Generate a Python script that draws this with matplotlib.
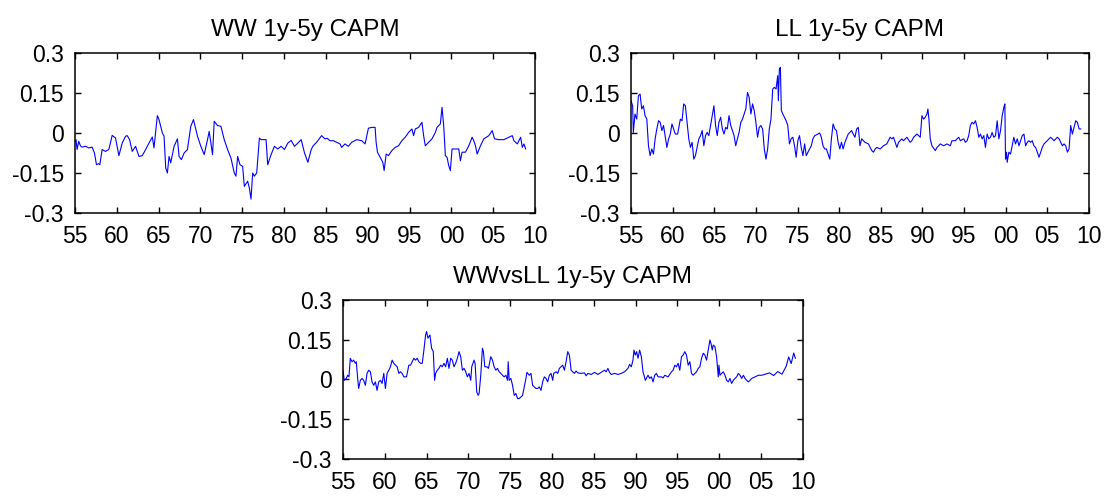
"""Three rolling 1y-5y CAPM alpha series (WW, LL, WW vs LL), MATLAB-style panels."""

import matplotlib
matplotlib.use("Agg")
from matplotlib import pyplot as plt

# WW 1y-5y CAPM  (decimal year, value)
ww_year = [1955.0, 1955.12, 1955.24, 1955.44, 1955.64, 1955.84, 1956.24, 1956.64, 1957.04, 1957.32,
           1957.56, 1957.80, 1957.96, 1958.24, 1958.64, 1959.04, 1959.44, 1959.84, 1960.24, 1960.64,
           1961.04, 1961.24, 1961.52, 1961.84, 1962.24, 1962.64, 1963.04, 1963.44, 1963.84, 1964.24,
           1964.44, 1964.84, 1965.04, 1965.44, 1965.64, 1965.84, 1966.04, 1966.24, 1966.44, 1966.84,
           1967.24, 1967.44, 1967.72, 1968.04, 1968.44, 1968.84, 1969.16, 1969.64, 1970.04, 1970.44,
           1970.84, 1971.04, 1971.44, 1971.64, 1972.04, 1972.44, 1972.84, 1973.24, 1973.64, 1974.04,
           1974.24, 1974.44, 1974.72, 1975.04, 1975.24, 1975.64, 1975.84, 1976.04, 1976.24, 1976.44,
           1976.72, 1977.04, 1977.24, 1977.64, 1977.84, 1978.04, 1978.44, 1978.84, 1979.24, 1979.64,
           1980.04, 1980.44, 1980.84, 1981.24, 1981.64, 1982.04, 1982.44, 1982.84, 1983.24, 1983.48,
           1983.88, 1984.48, 1984.88, 1985.16, 1985.48, 1985.88, 1986.28, 1986.68, 1986.88, 1987.28,
           1987.68, 1988.08, 1988.68, 1989.28, 1989.68, 1990.08, 1990.48, 1990.88, 1991.00, 1991.16,
           1991.48, 1991.80, 1991.96, 1992.20, 1992.48, 1992.88, 1993.28, 1993.68, 1994.08, 1994.48,
           1994.88, 1995.28, 1995.48, 1995.68, 1996.08, 1996.48, 1996.68, 1996.88, 1997.28, 1997.68,
           1998.08, 1998.28, 1998.68, 1998.88, 1999.08, 1999.28, 1999.48, 1999.68, 1999.88, 2000.08,
           2000.48, 2000.88, 2001.08, 2001.28, 2001.68, 2002.08, 2002.48, 2002.68, 2002.88, 2003.08,
           2003.48, 2003.88, 2004.48, 2004.88, 2005.16, 2005.68, 2006.28, 2006.88, 2007.28, 2007.48,
           2007.88, 2008.28, 2008.48, 2008.68, 2008.88]
ww_val = [-0.03, -0.025, -0.062, -0.031, -0.048, -0.053, -0.05, -0.056, -0.053, -0.075,
          -0.119, -0.115, -0.119, -0.062, -0.069, -0.062, -0.009, -0.019, -0.085, -0.038,
          -0.012, -0.01, -0.025, -0.069, -0.05, -0.088, -0.085, -0.062, -0.038, -0.015,
          -0.056, 0.065, 0.05, 0.0, -0.012, -0.131, -0.15, -0.088, -0.112, -0.05,
          -0.022, -0.088, -0.1, -0.075, -0.062, 0.025, 0.05, -0.012, -0.05, -0.081,
          -0.025, 0.006, -0.081, 0.044, 0.028, 0.025, -0.025, -0.062, -0.094, -0.15,
          -0.162, -0.088, -0.119, -0.125, -0.2, -0.181, -0.206, -0.248, -0.15, -0.162,
          -0.15, -0.019, -0.025, -0.025, -0.025, -0.119, -0.081, -0.05, -0.06, -0.05,
          -0.062, -0.038, -0.028, -0.05, -0.038, -0.025, -0.075, -0.11, -0.062, -0.048,
          -0.035, -0.01, -0.022, -0.02, -0.029, -0.029, -0.035, -0.041, -0.054, -0.041,
          -0.05, -0.035, -0.025, -0.029, -0.041, 0.018, 0.021, 0.021, -0.035, -0.072,
          -0.091, -0.11, -0.141, -0.079, -0.085, -0.066, -0.054, -0.048, -0.029, -0.016,
          0.002, 0.015, -0.01, 0.015, 0.021, 0.04, -0.01, -0.048, -0.035, -0.022,
          0.002, 0.021, 0.034, 0.096, 0.028, -0.085, -0.091, -0.122, -0.141, -0.06,
          -0.06, -0.06, -0.104, -0.072, -0.072, -0.048, -0.016, -0.029, -0.048, -0.079,
          -0.048, -0.022, -0.01, 0.009, -0.022, -0.025, -0.025, -0.016, -0.01, -0.029,
          -0.041, -0.016, -0.054, -0.041, -0.06]

# LL 1y-5y CAPM
ll_year = [1955.0, 1955.2, 1955.28, 1955.48, 1955.69, 1955.89, 1956.09, 1956.29, 1956.49, 1956.69,
           1956.9, 1957.1, 1957.3, 1957.5, 1957.7, 1957.9, 1958.1, 1958.31, 1958.51, 1958.71,
           1958.91, 1959.31, 1959.52, 1959.72, 1959.92, 1960.12, 1960.32, 1960.6, 1960.93, 1961.13,
           1961.33, 1961.53, 1961.73, 1961.94, 1962.14, 1962.34, 1962.54, 1962.74, 1962.94, 1963.15,
           1963.35, 1963.55, 1963.75, 1963.95, 1964.15, 1964.35, 1964.56, 1964.76, 1964.96, 1965.16,
           1965.36, 1965.56, 1965.77, 1965.97, 1966.17, 1966.37, 1966.57, 1966.77, 1966.98, 1967.18,
           1967.38, 1967.58, 1967.78, 1967.98, 1968.19, 1968.39, 1968.59, 1968.79, 1968.99, 1969.19,
           1969.4, 1969.6, 1969.8, 1970.0, 1970.2, 1970.4, 1970.6, 1970.81, 1971.01, 1971.21,
           1971.41, 1971.61, 1971.81, 1972.02, 1972.22, 1972.42, 1972.62, 1972.7, 1972.82, 1972.94,
           1973.06, 1973.23, 1973.43, 1973.63, 1973.83, 1974.03, 1974.23, 1974.44, 1974.64, 1974.84,
           1975.04, 1975.24, 1975.44, 1975.65, 1975.85, 1976.05, 1976.25, 1976.65, 1976.85, 1977.06,
           1977.46, 1977.66, 1977.86, 1978.06, 1978.27, 1978.47, 1978.67, 1978.87, 1979.07, 1979.27,
           1979.48, 1979.68, 1979.88, 1980.08, 1980.28, 1980.48, 1980.69, 1981.09, 1981.49, 1981.69,
           1981.9, 1982.1, 1982.3, 1982.5, 1982.7, 1983.1, 1983.51, 1983.92, 1984.12, 1984.32,
           1984.52, 1984.92, 1985.12, 1985.32, 1985.72, 1986.12, 1986.33, 1986.53, 1986.93, 1987.13,
           1987.53, 1987.73, 1988.13, 1988.53, 1988.73, 1988.94, 1989.34, 1989.74, 1989.94, 1990.14,
           1990.34, 1990.54, 1990.66, 1990.78, 1990.94, 1991.14, 1991.55, 1991.75, 1991.95, 1992.15,
           1992.55, 1992.95, 1993.35, 1993.55, 1993.96, 1994.16, 1994.36, 1994.56, 1994.96, 1995.16,
           1995.36, 1995.56, 1995.76, 1995.96, 1996.16, 1996.37, 1996.57, 1996.77, 1996.97, 1997.17,
           1997.37, 1997.57, 1997.77, 1997.97, 1998.17, 1998.37, 1998.57, 1998.78, 1998.98, 1999.18,
           1999.38, 1999.58, 1999.78, 1999.9, 1999.98, 2000.1, 2000.18, 2000.38, 2000.58, 2000.78,
           2000.98, 2001.18, 2001.39, 2001.59, 2001.79, 2001.99, 2002.19, 2002.39, 2002.59, 2002.79,
           2002.99, 2003.19, 2003.39, 2003.59, 2003.8, 2004.0, 2004.2, 2004.4, 2004.6, 2004.8,
           2005.2, 2005.4, 2005.6, 2005.8, 2006.2, 2006.41, 2006.61, 2006.81, 2007.01, 2007.21,
           2007.41, 2007.61, 2007.81, 2008.01, 2008.21, 2008.41, 2008.61, 2008.82, 2009.02]
ll_val = [0.121, 0.102, 0.002, 0.071, 0.052, 0.14, 0.146, 0.09, 0.102, 0.065,
          0.052, -0.048, -0.085, -0.06, -0.079, -0.022, 0.015, 0.046, 0.04, 0.009,
          0.028, -0.054, -0.022, -0.004, 0.034, 0.015, -0.004, -0.004, 0.052, 0.046,
          0.109, 0.102, 0.04, -0.022, -0.054, -0.035, -0.098, -0.085, -0.054, -0.022,
          -0.01, 0.009, -0.048, -0.01, 0.002, -0.01, 0.028, 0.065, 0.102, 0.028,
          -0.01, 0.04, 0.059, 0.015, -0.004, 0.021, 0.015, 0.065, 0.028, 0.009,
          -0.01, -0.048, -0.022, 0.002, 0.04, 0.052, 0.071, 0.09, 0.152, 0.134,
          0.071, 0.109, 0.084, 0.04, -0.016, 0.021, 0.028, 0.015, -0.06, -0.098,
          -0.06, 0.015, 0.052, 0.165, 0.171, 0.165, 0.215, 0.121, 0.24, 0.246,
          0.084, 0.071, 0.059, 0.046, 0.028, -0.041, -0.022, -0.016, -0.048, -0.091,
          -0.029, -0.01, -0.054, -0.085, -0.041, -0.085, -0.072, -0.048, -0.022, -0.01,
          -0.004, 0.0, -0.016, -0.048, -0.06, -0.06, -0.079, -0.098, -0.022, 0.034,
          0.015, 0.009, -0.035, -0.06, -0.035, -0.06, -0.035, -0.004, 0.009, -0.004,
          -0.016, 0.015, 0.021, -0.048, -0.022, -0.035, -0.041, -0.066, -0.072, -0.06,
          -0.054, -0.06, -0.054, -0.048, -0.041, -0.016, -0.022, -0.016, -0.054, -0.035,
          -0.022, -0.029, -0.016, -0.035, -0.029, -0.016, -0.004, -0.016, 0.065, 0.052,
          0.059, 0.071, 0.09, 0.052, -0.022, -0.048, -0.066, -0.054, -0.048, -0.041,
          -0.048, -0.041, -0.048, -0.029, -0.029, -0.022, -0.016, -0.029, -0.022, -0.035,
          -0.029, -0.01, 0.028, 0.04, 0.034, 0.046, 0.021, -0.016, -0.004, -0.022,
          -0.01, -0.054, -0.004, -0.022, -0.016, 0.002, -0.016, -0.01, 0.046, -0.022,
          0.009, 0.065, 0.096, 0.109, -0.098, -0.072, -0.11, -0.072, -0.079, -0.048,
          -0.016, -0.041, -0.022, -0.048, -0.029, -0.01, -0.004, -0.048, -0.035, -0.029,
          -0.035, -0.029, -0.048, -0.054, -0.072, -0.091, -0.072, -0.054, -0.041, -0.035,
          -0.022, -0.016, -0.022, -0.029, -0.016, -0.022, -0.035, -0.048, -0.041, -0.048,
          -0.072, -0.06, 0.028, -0.004, 0.021, 0.046, 0.04, 0.015, 0.015]

# WWvsLL 1y-5y CAPM
wl_year = [1955.0, 1955.16, 1955.4, 1955.56, 1955.72, 1955.88, 1956.08, 1956.28, 1956.48, 1956.6,
           1956.76, 1956.88, 1957.08, 1957.28, 1957.48, 1957.68, 1957.88, 1958.08, 1958.28, 1958.48,
           1958.68, 1958.88, 1959.08, 1959.28, 1959.48, 1959.68, 1959.88, 1960.08, 1960.28, 1960.48,
           1960.68, 1960.88, 1961.08, 1961.28, 1961.48, 1961.68, 1961.88, 1962.08, 1962.28, 1962.6,
           1962.88, 1963.08, 1963.28, 1963.48, 1963.68, 1963.88, 1964.08, 1964.28, 1964.48, 1964.68,
           1964.88, 1965.0, 1965.16, 1965.4, 1965.6, 1965.8, 1965.96, 1966.08, 1966.28, 1966.48,
           1966.68, 1966.88, 1967.08, 1967.28, 1967.48, 1967.68, 1967.88, 1968.08, 1968.28, 1968.48,
           1968.68, 1968.88, 1969.08, 1969.28, 1969.48, 1969.68, 1969.88, 1970.08, 1970.28, 1970.4,
           1970.68, 1970.8, 1971.0, 1971.16, 1971.28, 1971.48, 1971.68, 1971.8, 1971.96, 1972.2,
           1972.4, 1972.68, 1972.88, 1973.08, 1973.28, 1973.48, 1973.68, 1973.88, 1974.08, 1974.28,
           1974.48, 1974.68, 1974.76, 1974.88, 1975.08, 1975.28, 1975.48, 1975.68, 1975.88, 1976.08,
           1976.28, 1976.48, 1976.68, 1976.88, 1977.0, 1977.28, 1977.48, 1977.68, 1977.88, 1978.08,
           1978.28, 1978.48, 1978.68, 1978.88, 1979.08, 1979.28, 1979.48, 1979.68, 1979.88, 1980.08,
           1980.2, 1980.48, 1980.68, 1980.88, 1981.08, 1981.28, 1981.48, 1981.68, 1981.88, 1982.08,
           1982.28, 1982.48, 1982.68, 1982.88, 1983.08, 1983.48, 1983.88, 1984.08, 1984.28, 1984.68,
           1985.08, 1985.48, 1985.88, 1986.28, 1986.48, 1986.68, 1986.88, 1987.08, 1987.48, 1987.88,
           1988.28, 1988.68, 1989.08, 1989.28, 1989.48, 1989.68, 1989.8, 1989.96, 1990.12, 1990.28,
           1990.48, 1990.68, 1990.88, 1991.0, 1991.16, 1991.48, 1991.68, 1991.88, 1992.08, 1992.28,
           1992.48, 1992.68, 1993.08, 1993.28, 1993.48, 1993.88, 1994.28, 1994.48, 1994.68, 1994.88,
           1995.08, 1995.28, 1995.48, 1995.68, 1995.88, 1996.08, 1996.28, 1996.48, 1996.68, 1996.88,
           1997.08, 1997.28, 1997.48, 1997.68, 1997.88, 1998.08, 1998.28, 1998.48, 1998.68, 1998.88,
           1999.0, 1999.16, 1999.28, 1999.48, 1999.68, 1999.8, 1999.88, 1999.96, 2000.08, 2000.28,
           2000.48, 2000.68, 2000.88, 2001.08, 2001.28, 2001.48, 2001.68, 2001.88, 2002.08, 2002.28,
           2002.48, 2002.68, 2002.88, 2003.08, 2003.28, 2003.48, 2003.68, 2003.88, 2004.28, 2004.68,
           2005.08, 2005.5, 2006.0, 2006.5, 2007.0, 2007.5, 2008.0, 2008.3, 2008.6, 2008.9,
           2009.1]
wl_val = [0.035, -0.003, 0.004, 0.016, 0.01, 0.08, 0.067, 0.073, 0.061, 0.067,
          0.004, -0.034, -0.003, 0.004, -0.003, -0.022, 0.023, 0.035, 0.029, -0.009,
          -0.022, -0.009, -0.041, -0.009, -0.003, -0.015, 0.023, -0.034, 0.023, 0.035,
          0.048, 0.073, 0.061, 0.054, 0.048, 0.023, 0.029, 0.023, 0.01, 0.01,
          0.054, 0.054, 0.067, 0.08, 0.073, 0.08, 0.067, 0.061, 0.061, 0.111,
          0.168, 0.181, 0.156, 0.168, 0.118, 0.105, -0.003, 0.023, 0.035, 0.042,
          0.054, 0.048, 0.061, 0.048, 0.08, 0.042, 0.08, 0.073, 0.048, 0.061,
          0.08, 0.105, 0.086, 0.035, 0.042, 0.029, 0.01, 0.023, -0.003, 0.048,
          0.073, 0.061, -0.047, -0.06, -0.053, 0.016, 0.118, 0.105, 0.048, 0.048,
          0.042, 0.086, 0.073, 0.048, 0.035, 0.042, 0.029, 0.023, 0.016, 0.01,
          0.016, -0.003, 0.067, -0.003, 0.004, -0.022, -0.06, -0.053, -0.072, -0.072,
          -0.066, -0.06, -0.028, 0.004, 0.027, 0.016, 0.023, -0.022, -0.028, -0.034,
          -0.034, -0.028, -0.041, -0.009, 0.01, 0.004, -0.009, 0.016, 0.023, -0.003,
          0.023, 0.029, 0.023, 0.042, 0.048, 0.054, 0.035, 0.067, 0.105, 0.092,
          0.035, 0.029, 0.023, 0.032, 0.025, 0.023, 0.025, 0.014, 0.023, 0.019,
          0.027, 0.019, 0.027, 0.035, 0.029, 0.042, 0.027, 0.019, 0.023, 0.019,
          0.023, 0.029, 0.042, 0.057, 0.048, 0.073, 0.111, 0.092, 0.105, 0.08,
          0.111, 0.086, 0.029, 0.016, -0.003, 0.016, 0.004, 0.01, -0.009, 0.016,
          0.023, 0.01, 0.01, 0.006, 0.016, 0.01, 0.029, 0.035, 0.054, 0.048,
          0.061, 0.035, 0.086, 0.092, 0.105, 0.092, 0.054, 0.067, 0.023, 0.016,
          0.023, 0.029, 0.042, 0.048, 0.08, 0.099, 0.092, 0.073, 0.111, 0.149,
          0.137, 0.111, 0.13, 0.124, 0.086, 0.042, 0.01, 0.054, 0.016, 0.023,
          0.029, 0.016, -0.003, -0.009, 0.004, -0.015, -0.003, 0.004, 0.01, 0.023,
          0.016, 0.004, 0.016, 0.004, -0.003, -0.009, -0.003, 0.004, 0.01, 0.016,
          0.016, 0.02, 0.025, 0.015, 0.03, 0.02, 0.05, 0.085, 0.06, 0.1,
          0.08]

titles = ['WW 1y-5y CAPM', 'LL 1y-5y CAPM', 'WWvsLL 1y-5y CAPM']
x_ticks = list(range(1955, 2011, 5))
x_labels = ['%02d' % (y % 100) for y in x_ticks]
y_ticks = [-0.3, -0.15, 0, 0.15, 0.3]
y_labels = ['-0.3', '-0.15', '0', '0.15', '0.3']

plt.rcParams['font.family'] = ['Liberation Sans', 'DejaVu Sans']

fig = plt.figure(figsize=(11.07, 4.96), dpi=100)
rects = [[0.0678, 0.5706, 0.4155, 0.3226],
         [0.5700, 0.5706, 0.4137, 0.3226],
         [0.3098, 0.0746, 0.4155, 0.3206]]
series = [(ww_year, ww_val), (ll_year, ll_val), (wl_year, wl_val)]

for rect, (xs, ys), title in zip(rects, series, titles):
    ax = fig.add_axes(rect)
    ax.plot(xs, ys, color='#0000ff', linewidth=0.8)
    ax.set_xlim(1955, 2010)
    ax.set_ylim(-0.3, 0.3)
    ax.set_xticks(x_ticks)
    ax.set_xticklabels(x_labels)
    ax.set_yticks(y_ticks)
    ax.set_yticklabels(y_labels)
    ax.tick_params(direction='in', top=True, right=True, length=4, width=1,
                   labelsize=16.5)
    ax.tick_params(axis='x', pad=9)
    ax.tick_params(axis='y', pad=8)
    for s in ax.spines.values():
        s.set_linewidth(1.1)
    ax.set_title(title, fontsize=17.5, pad=12)

fig.savefig('out.png', dpi=100)
